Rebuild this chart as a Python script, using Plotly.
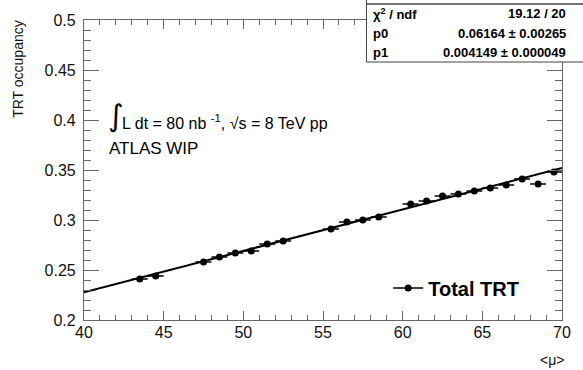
import plotly.graph_objects as go

# ---- data ----
mu = [43.5, 44.5, 47.5, 48.5, 49.5, 50.5, 51.5, 52.5, 55.5, 56.5, 57.5,
      58.5, 60.5, 61.5, 62.5, 63.5, 64.5, 65.5, 66.5, 67.5, 68.5, 69.5]
occ = [0.241, 0.244, 0.258, 0.263, 0.267, 0.269, 0.276, 0.279, 0.291, 0.298, 0.300,
       0.303, 0.316, 0.319, 0.324, 0.326, 0.329, 0.332, 0.335, 0.341, 0.336, 0.348]
mu_err = [0.5] * len(mu)
occ_err = [0.0015] * len(mu)

p0 = 0.06164
p1 = 0.004149
fit_range = [40, 70]
fit_y = [p0 + p1 * m for m in fit_range]

stat_labels = ["\u03c7<sup>2</sup> / ndf", "p0", "p1"]
stat_values = ["19.12 / 20", "0.06164 \u00b1 0.00265", "0.004149 \u00b1 0.000049"]

x_ticks = [40, 45, 50, 55, 60, 65, 70]
y_ticks = [0.2, 0.25, 0.3, 0.35, 0.4, 0.45, 0.5]
y_ticktext = ["0.2", "0.25", "0.3", "0.35", "0.4", "0.45", "0.5"]

# ---- geometry helpers (page pixels -> paper) ----
W, H = 583, 370
ML, MR, MT, MB = 84, 15, 20, 50
PW, PH = W - ML - MR, H - MT - MB


def PX(px):
    return (px - ML) / PW


def PY(py):
    return (H - MB - py) / PH


FONT = "Liberation Sans, Arial, Helvetica, sans-serif"

fig = go.Figure()

fig.add_trace(go.Scatter(
    x=fit_range, y=fit_y, mode="lines",
    line=dict(color="black", width=2), showlegend=False, hoverinfo="skip"))

fig.add_trace(go.Scatter(
    x=mu, y=occ, mode="markers",
    marker=dict(color="black", size=7, symbol="circle"),
    error_x=dict(type="data", array=mu_err, color="black", thickness=1.5, width=0),
    error_y=dict(type="data", array=occ_err, color="black", thickness=1.5, width=0),
    showlegend=False))

# legend entry
fig.add_trace(go.Scatter(
    x=[None], y=[None], mode="lines+markers", name="Total TRT",
    line=dict(color="black", width=1.5),
    marker=dict(color="black", size=7), showlegend=True))

axis_common = dict(
    showline=True, linecolor="#666", linewidth=1.2, mirror="ticks",
    ticks="inside", tickcolor="#666", tickwidth=1, showgrid=False, zeroline=False,
    tickfont=dict(family=FONT, size=16, color="#111"),
)

fig.update_xaxes(range=[40, 70], tickvals=x_ticks, ticklen=9,
                 minor=dict(dtick=1, ticklen=4.5, tickcolor="#666", ticks="inside"),
                 ticklabelstandoff=-2, **axis_common)
fig.update_yaxes(range=[0.2, 0.5], tickvals=y_ticks, ticktext=y_ticktext, ticklen=14.5,
                 minor=dict(dtick=0.01, ticklen=7, tickcolor="#666", ticks="inside"),
                 ticklabelstandoff=4, **axis_common)

ann = []
# axis titles
ann.append(dict(x=PX(17), y=PY(18), xref="paper", yref="paper", text="TRT occupancy",
                textangle=-90, showarrow=False, xanchor="center", yanchor="top",
                font=dict(family=FONT, size=14, color="#111")))
ann.append(dict(x=PX(572), y=PY(360), xref="paper", yref="paper", text="&lt;\u03bc&gt;",
                showarrow=False, xanchor="right", yanchor="middle",
                font=dict(family=FONT, size=14, color="#111")))
# luminosity text
ann.append(dict(x=PX(106), y=PY(116), xref="paper", yref="paper", text="\u222b",
                showarrow=False, xanchor="left", yanchor="middle",
                font=dict(family="DejaVu Sans", size=30, color="black")))
ann.append(dict(x=PX(120), y=PY(122), xref="paper", yref="paper",
                text="L dt = 80 nb <sup>-1</sup>, \u221as = 8 TeV pp",
                showarrow=False, xanchor="left", yanchor="middle",
                font=dict(family=FONT, size=16, color="black")))
ann.append(dict(x=PX(107), y=PY(148), xref="paper", yref="paper", text="ATLAS WIP",
                showarrow=False, xanchor="left", yanchor="middle",
                font=dict(family=FONT, size=17, color="black")))

# stats box
row_y = [14, 33, 52]
for lab, val, ry in zip(stat_labels, stat_values, row_y):
    ann.append(dict(x=PX(375), y=PY(ry), xref="paper", yref="paper", text="<b>%s</b>" % lab,
                    showarrow=False, xanchor="left", yanchor="middle",
                    font=dict(family=FONT, size=13, color="black")))
    ann.append(dict(x=PX(574), y=PY(ry), xref="paper", yref="paper", text="<b>%s</b>" % val,
                    showarrow=False, xanchor="right", yanchor="middle",
                    font=dict(family=FONT, size=13, color="black")))

shapes = [
    dict(type="rect", xref="paper", yref="paper", x0=PX(370), x1=PX(590), y0=PY(62), y1=PY(-5),
         fillcolor="white", line=dict(color="#444", width=1), layer="above"),
    dict(type="line", xref="paper", yref="paper", x0=PX(370), x1=PX(590), y0=PY(4), y1=PY(4),
         line=dict(color="#444", width=1.5), layer="above"),
]

fig.update_layout(
    width=W, height=H,
    margin=dict(l=ML, r=MR, t=MT, b=MB),
    paper_bgcolor="white", plot_bgcolor="white",
    annotations=ann, shapes=shapes,
    legend=dict(x=PX(392), y=PY(288), xanchor="left", yanchor="middle",
                bgcolor="rgba(0,0,0,0)", borderwidth=0,
                font=dict(family=FONT, size=20, color="black", weight="bold"),
                itemwidth=30),
)

fig.write_html("out.html")
